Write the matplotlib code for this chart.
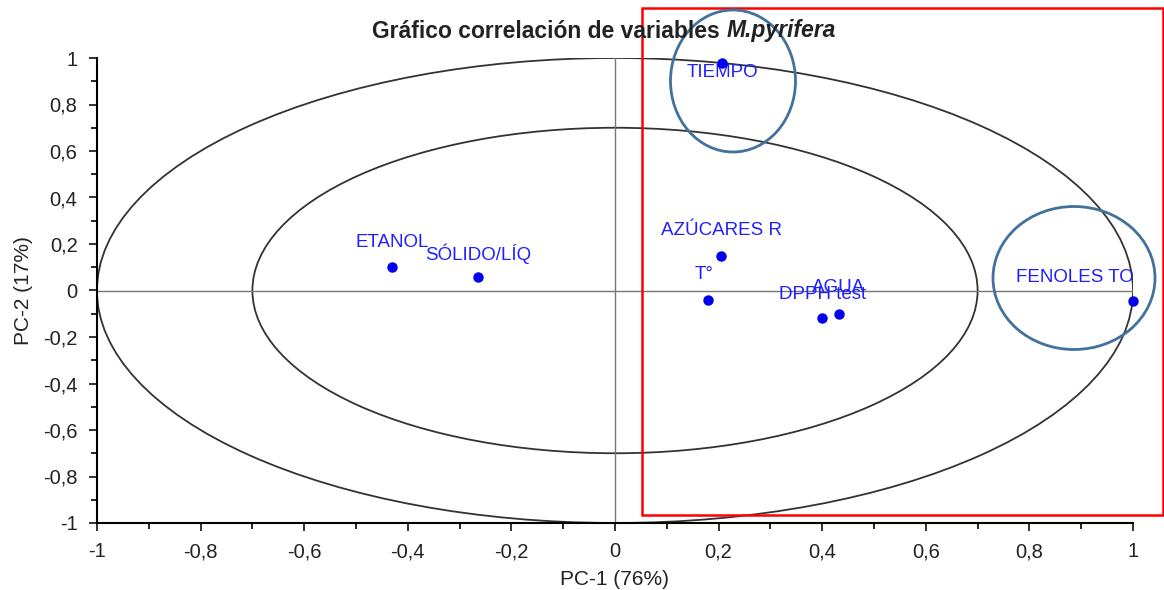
import numpy as np
import matplotlib.pyplot as plt
from matplotlib.patches import Ellipse, Rectangle
from matplotlib.ticker import MultipleLocator, FuncFormatter

plt.rcParams['font.family'] = ['Liberation Sans', 'DejaVu Sans']

# loadings
variables = ['TIEMPO', 'ETANOL', 'SÓLIDO/LÍQ', 'AZÚCARES R', 'T°', 'DPPH test', 'AGUA', 'FENOLES TO']
pc1 = [0.207, -0.43, -0.264, 0.205, 0.18, 0.40, 0.432, 1.0]
pc2 = [0.98, 0.103, 0.056, 0.15, -0.04, -0.12, -0.10, -0.047]
# label offsets (points) relative to each point
lab_dx = [0, 0, 0, 0, -3, 0, 0, -42]
lab_dy = [-7, 17, 17, 18, 18, 17, 19, 17]

fig = plt.figure(figsize=(11.64, 5.9), dpi=100)
ax = fig.add_axes([97/1164, 1 - 523/590, (1133 - 97)/1164, (523 - 58)/590])

ax.set_xlim(-1, 1)
ax.set_ylim(-1, 1)

ax.add_patch(Ellipse((0, 0), 2, 2, fill=False, ec='#333333', lw=1.3))
ax.add_patch(Ellipse((0, 0), 1.4, 1.4, fill=False, ec='#333333', lw=1.3))
ax.axhline(0, color='#777777', lw=1)
ax.axvline(0, color='#777777', lw=1)

ax.plot(pc1, pc2, 'o', color='#0000ee', ms=6.5, clip_on=False, zorder=5)
for name, x, y, dx, dy in zip(variables, pc1, pc2, lab_dx, lab_dy):
    ax.annotate(name, (x, y), xytext=(dx, dy), textcoords='offset points',
                ha='center', va='center', color='#2020ff', fontsize=13.5,
                annotation_clip=False)

for s in ['top', 'right']:
    ax.spines[s].set_visible(False)
for s in ['left', 'bottom']:
    ax.spines[s].set_linewidth(1.5)

ax.xaxis.set_major_locator(MultipleLocator(0.2))
ax.xaxis.set_minor_locator(MultipleLocator(0.1))
ax.yaxis.set_major_locator(MultipleLocator(0.2))
ax.yaxis.set_minor_locator(MultipleLocator(0.1))
fmt = FuncFormatter(lambda v, p: ('%g' % round(v, 2)).replace('.', ','))
ax.xaxis.set_major_formatter(fmt)
ax.yaxis.set_major_formatter(fmt)
ax.tick_params(which='major', length=6, width=1.3, labelsize=14.5, colors='#222222', pad=8)
ax.tick_params(which='minor', length=4, width=1.2)

ax.set_xlabel('PC-1 (76%)', fontsize=15, color='#222222', labelpad=6)
ax.set_ylabel('PC-2 (17%)', fontsize=15, color='#222222', labelpad=7)

# title: regular bold part + bold italic species name
r = fig.canvas.get_renderer()
t1 = fig.text(0, 1 - 31/590, 'Gráfico correlación de variables ', ha='left', va='center',
              fontsize=16.5, fontweight='bold', color='#222222')
t2 = fig.text(0, 1 - 31/590, 'M.pyrifera', ha='left', va='center',
              fontsize=16.5, fontweight='bold', style='italic', color='#222222')
w1 = t1.get_window_extent(r).width
w2 = t2.get_window_extent(r).width
x0 = 604 - (w1 + w2) / 2
t1.set_x(x0 / 1164)
t2.set_x((x0 + w1) / 1164)

# annotation shapes drawn over the chart
fig.add_artist(Rectangle((642/1164, 1 - 515/590), (1163 - 642)/1164, (515 - 8)/590,
                         transform=fig.transFigure, fill=False, ec='red', lw=1.8))
fig.add_artist(Ellipse((733/1164, 1 - 81/590), 125/1164, 142/590,
                       transform=fig.transFigure, fill=False, ec='#41719c', lw=2))
fig.add_artist(Ellipse((1074/1164, 1 - 278/590), 162/1164, 143/590,
                       transform=fig.transFigure, fill=False, ec='#41719c', lw=2))

fig.savefig('out.png', dpi=100)
